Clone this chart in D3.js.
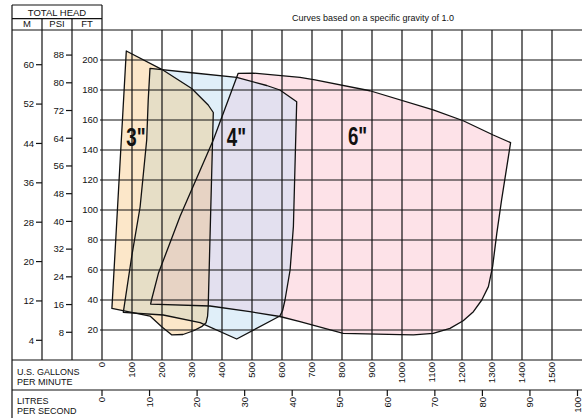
<!DOCTYPE html>
<meta charset="utf-8">
<style>
body { margin: 0; background: #fff; }
svg text { font-family: "Liberation Sans", Arial, sans-serif; fill: #111; }
.grid line, .frame line { stroke: #111; stroke-width: 1.2px; }
.outline { fill: none; stroke: #111; stroke-width: 1.3px; stroke-linejoin: round; }
</style>
<svg width="582" height="418"></svg>
<script src="https://d3js.org/d3.v7.min.js"></script>
<script>
// pump curves, [gallons per minute, feet of head]
var curve3 = [[81,206],[199,193.8],[299,181],[354,170],[371,165],[354,35.5],[352,29.3],
  [347,24.9],[332,22.2],[305,19.5],[270,17],[233,16.7],[200,22],[160,29.3],[33,34.4]];
var curve4 = [[160,194.4],[299,191.5],[449,188.4],[549,183],[593,180],[649,172.2],
  [638,89],[627,60],[610,40],[602,33],[593,29.3],[449,14],[327,24.9],[204,30],[71,31.8],
  [99,69],[127,102],[149,146.7],[154,173]];
var curve6 = [[454,191.1],[503,191.3],[660,188.4],[710,186.7],[893,179.5],[1104,166.7],
  [1204,159.5],[1304,150],[1362,144.9],[1332,106.7],[1316,84.4],[1302,62.2],[1288,48.9],
  [1266,40],[1238,32.2],[1204,26.2],[1160,21.1],[1104,17.8],[1038,16.7],[993,16.9],
  [804,17.8],[660,25.6],[593,29],[493,32.2],[360,36],[162,37.3],[165,40],[188,57.8],
  [260,95.6],[371,146.7]];
var sizeLabels = ['3"', '4"', '6"'];
var labelPos = [[113,142.7],[448,142.7],[852,143.3]];

var ftTicks = [20,40,60,80,100,120,140,160,180,200];
var psiTicks = [8,16,24,32,40,48,56,64,72,80,88];
var mTicks = [4,12,20,28,36,44,52,60];
var gpmTicks = d3.range(0, 1600, 100);
var lpsTicks = d3.range(0, 110, 10);

var svg = d3.select("svg");
var x = d3.scaleLinear().domain([0,1600]).range([102,582]);
var y = d3.scaleLinear().domain([0,220]).range([360,30]);
var GPM_PER_LPS = 15.85, FT_PER_PSI = 2.31, FT_PER_M = 3.281;

var line = d3.line().x(function(d){ return x(d[0]); }).y(function(d){ return y(d[1]); })
  .curve(d3.curveLinearClosed);

var defs = svg.append("defs");
[["c3",curve3],["c4",curve4],["c6",curve6]].forEach(function(c){
  defs.append("clipPath").attr("id", c[0]).append("path").attr("d", line(c[1]));
});

// fills, overlaps drawn with their own colours
var fills = svg.append("g");
fills.append("path").attr("d", line(curve6)).attr("fill", "#fde2e8");
fills.append("path").attr("d", line(curve4)).attr("fill", "#e0eff9");
fills.append("path").attr("d", line(curve3)).attr("fill", "#fce7c9");
fills.append("g").attr("clip-path", "url(#c6)")
  .append("path").attr("d", line(curve4)).attr("fill", "#e3e0ef");
var g34 = fills.append("g").attr("clip-path", "url(#c4)");
g34.append("path").attr("d", line(curve3)).attr("fill", "#e6dec6");
g34.append("g").attr("clip-path", "url(#c6)")
  .append("path").attr("d", line(curve3)).attr("fill", "#e7d3c4");

// grid
var grid = svg.append("g").attr("class", "grid");
grid.selectAll(".v").data(gpmTicks.slice(1)).enter().append("line")
  .attr("x1", function(d){ return x(d); }).attr("x2", function(d){ return x(d); })
  .attr("y1", y(220)).attr("y2", y(0));
grid.selectAll(".h").data(ftTicks).enter().append("line")
  .attr("x1", 100).attr("x2", 582)
  .attr("y1", function(d){ return y(d); }).attr("y2", function(d){ return y(d); });

// outlines
svg.append("g").selectAll("path").data([curve3, curve4, curve6]).enter().append("path")
  .attr("class", "outline").attr("d", line);

svg.append("g").selectAll("text").data(sizeLabels).enter().append("text")
  .attr("transform", function(d,i){ return "translate(" + x(labelPos[i][0]) + "," + y(labelPos[i][1]) + ") scale(0.72,1)"; })
  .attr("text-anchor", "middle").style("font-size", "26px").style("font-weight", "bold")
  .text(function(d){ return d; });

// frame
var frame = svg.append("g").attr("class", "frame");
var segs = [[12,5,102,5],[12,18.7,102,18.7],[12,30,582,30],[12,5,12,418],[102,5,102,360],
  [42,18.7,42,360],[72,18.7,72,360],[12,360,582,360],[12,390,582,390]];
frame.selectAll("line").data(segs).enter().append("line")
  .attr("x1", function(d){ return d[0]; }).attr("y1", function(d){ return d[1]; })
  .attr("x2", function(d){ return d[2]; }).attr("y2", function(d){ return d[3]; });

svg.append("text").attr("x", 57).attr("y", 15.5).attr("text-anchor", "middle")
  .style("font-size", "9.5px").text("TOTAL HEAD");
[["M",27],["PSI",57],["FT",87]].forEach(function(h){
  svg.append("text").attr("x", h[1]).attr("y", 27).attr("text-anchor", "middle")
    .style("font-size", "9.5px").text(h[0]);
});
svg.append("text").attr("x", 373).attr("y", 21).attr("text-anchor", "middle")
  .style("font-size", "9px").text("Curves based on a specific gravity of 1.0");

// head axes
function headAxis(ticks, factor, tickX, tickLen) {
  var g = svg.append("g");
  g.selectAll("line").data(ticks).enter().append("line")
    .attr("x1", tickX - tickLen).attr("x2", tickX)
    .attr("y1", function(d){ return y(d*factor); }).attr("y2", function(d){ return y(d*factor); })
    .attr("stroke", "#111").attr("stroke-width", 1.2);
  g.selectAll("text").data(ticks).enter().append("text")
    .attr("x", tickX - tickLen - 2).attr("y", function(d){ return y(d*factor); })
    .attr("dy", "0.35em").attr("text-anchor", "end").style("font-size", "9.5px")
    .text(function(d){ return d; });
}
headAxis(mTicks, FT_PER_M, 42, 6);
headAxis(psiTicks, FT_PER_PSI, 72, 6);
headAxis(ftTicks, 1, 100, 0);

// flow axes
svg.append("g").selectAll("text").data(gpmTicks).enter().append("text")
  .attr("transform", function(d){ return "translate(" + x(d) + ",362) rotate(-90)"; })
  .attr("dy", "0.35em").attr("text-anchor", "end").style("font-size", "9.5px")
  .text(function(d){ return d; });
var lps = svg.append("g");
lps.selectAll("line").data(lpsTicks).enter().append("line")
  .attr("x1", function(d){ return x(d*GPM_PER_LPS); }).attr("x2", function(d){ return x(d*GPM_PER_LPS); })
  .attr("y1", 390).attr("y2", 396).attr("stroke", "#111").attr("stroke-width", 1.2);
lps.selectAll("text").data(lpsTicks).enter().append("text")
  .attr("transform", function(d){ return "translate(" + x(d*GPM_PER_LPS) + ",397) rotate(-90)"; })
  .attr("dy", "0.35em").attr("text-anchor", "end").style("font-size", "9.5px")
  .text(function(d){ return d; });

[["U.S. GALLONS",374.5],["PER MINUTE",385],["LITRES",403.5],["PER SECOND",414]].forEach(function(t){
  svg.append("text").attr("x", 17).attr("y", t[1]).style("font-size", "9px").text(t[0]);
});
</script>
